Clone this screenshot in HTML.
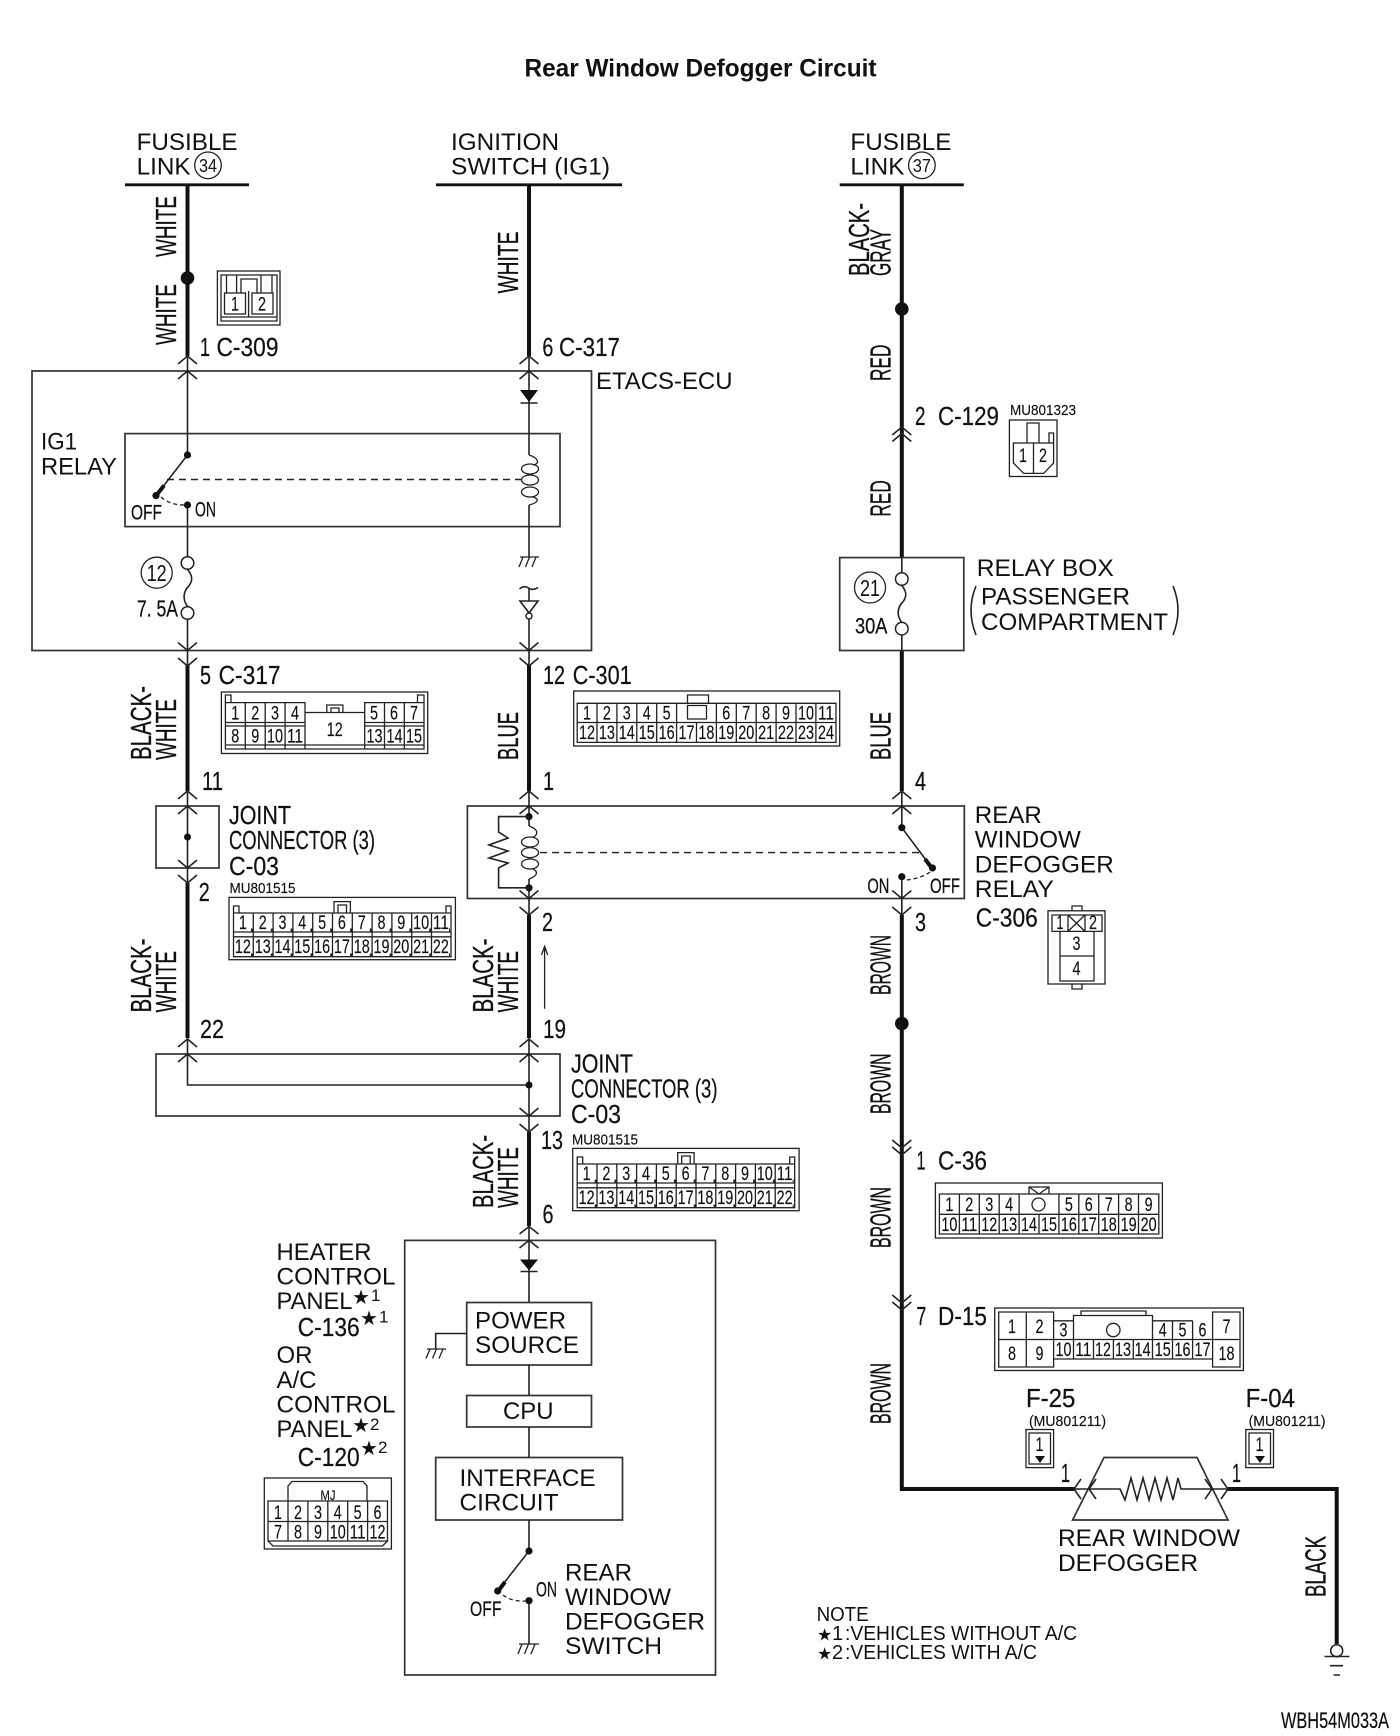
<!DOCTYPE html>
<html><head><meta charset="utf-8"><title>Rear Window Defogger Circuit</title>
<style>
html,body{margin:0;padding:0;background:#fff}
svg{display:block;filter:blur(.35px)}
text{font-family:"Liberation Sans",sans-serif;fill:#111}
.s{font-size:24.5px}
.n{font-size:26px;stroke:#111;stroke-width:.25}
.r{font-size:28.5px;stroke:#111;stroke-width:.3}
.d{font-size:19px;text-anchor:middle;stroke:#111;stroke-width:.15}
.m{font-size:15px;stroke:#111;stroke-width:.15}
.t{fill:none;stroke:#222;stroke-width:1.6}
.b{fill:none;stroke:#333;stroke-width:1.7}
.c{fill:none;stroke:#222;stroke-width:1.3}
.k{fill:none;stroke:#111;stroke-width:4}
.x{fill:#fff;stroke:#222;stroke-width:1.5}
.star{font-family:"DejaVu Sans",sans-serif;font-size:20px}
.star2{font-family:"DejaVu Sans",sans-serif;font-size:17px}
</style></head><body>
<svg xmlns="http://www.w3.org/2000/svg" width="1400" height="1736" viewBox="0 0 1400 1736">
<rect width="1400" height="1736" fill="#fff"/>
<text x="524.5" y="76.5" font-size="25" font-weight="bold" textLength="352" lengthAdjust="spacingAndGlyphs">Rear Window Defogger Circuit</text>

<!-- Head labels -->
<text class="s" x="136.6" y="150" textLength="101" lengthAdjust="spacingAndGlyphs">FUSIBLE</text>
<text class="s" x="136.6" y="174.5" textLength="54" lengthAdjust="spacingAndGlyphs">LINK</text>
<circle cx="208" cy="165.3" r="13.3" class="c"/><text x="208" y="172" font-size="18" text-anchor="middle" textLength="18" lengthAdjust="spacingAndGlyphs">34</text>
<text class="s" x="451" y="150" textLength="108" lengthAdjust="spacingAndGlyphs">IGNITION</text>
<text class="s" x="451" y="174.5" textLength="159" lengthAdjust="spacingAndGlyphs">SWITCH (IG1)</text>
<text class="s" x="850.4" y="150" textLength="101" lengthAdjust="spacingAndGlyphs">FUSIBLE</text>
<text class="s" x="850.4" y="174.5" textLength="54" lengthAdjust="spacingAndGlyphs">LINK</text>
<circle cx="921.9" cy="165.3" r="13.3" class="c"/><text x="921.9" y="172" font-size="18" text-anchor="middle" textLength="18" lengthAdjust="spacingAndGlyphs">37</text>
<path d="M125 184.8H249M436 184.8H622M839.7 184.8H963.8" fill="none" stroke="#111" stroke-width="2.8"/>

<!-- thick wires -->
<path class="k" d="M187.5 185V356M529 185V356M901.8 185V557.6M187.5 665V791M529 665V791M901.8 650V791M187.5 883V1038M529 915V1038M901.8 915V1489H1074M1228 1489H1336.7V1644M529 1132V1226"/>
<circle cx="187.5" cy="278" r="6.8" fill="#111"/>
<circle cx="901.8" cy="309" r="6.8" fill="#111"/>
<circle cx="901.8" cy="1023.6" r="6.8" fill="#111"/>

<!-- boxes -->
<rect class="b" x="32" y="371" width="559.5" height="279.5"/>
<rect class="b" x="125" y="433.6" width="435" height="93"/>
<rect class="b" x="839.7" y="557.6" width="124.1" height="92.9"/>
<rect class="b" x="156" y="806" width="63" height="62"/>
<rect class="b" x="467.4" y="806" width="496.9" height="92.5"/>
<rect class="b" x="156" y="1054" width="404" height="62"/>
<rect class="b" x="404.7" y="1240.4" width="310.8" height="434.6"/>
<rect class="b" x="466.7" y="1302.5" width="124.8" height="62.5"/>
<rect class="b" x="466.7" y="1395.5" width="124.8" height="31.5"/>
<rect class="b" x="435.7" y="1457.5" width="186.8" height="62.5"/>

<!-- thin wires -->
<path class="t" d="M187.5 356V455M187.5 505V556.5M187.5 619.5V666M529 356V455M529 505V557M529 588V601M529 619V666M901.8 557.6V573M901.8 635V650.5M187.5 791V883M529 791V826M529 879V915M901.8 791V828M901.8 877V915M187.5 1038V1085H529M529 1038V1132M529 1226V1302.5M529 1365V1395.5M529 1427V1457.5M529 1520V1551M529 1600.7V1644M466.7 1333.5H435.7V1349"/>

<!-- chevrons up -->
<path class="t" d="M178 364L187.5 356L197 364M178 379L187.5 371L197 379M519.5 364L529 356L538.5 364M519.5 379L529 371L538.5 379M178 799L187.5 791L197 799M178 814L187.5 806L197 814M519.5 799L529 791L538.5 799M519.5 814L529 806L538.5 814M892.3 799L901.8 791L911.3 799M892.3 814L901.8 806L911.3 814M178 1047L187.5 1039L197 1047M178 1062L187.5 1054L197 1062M519.5 1047L529 1039L538.5 1047M519.5 1062L529 1054L538.5 1062M519.5 1234L529 1226.5L538.5 1234M519.5 1248L529 1240.4L538.5 1248M892.3 435L901.8 427L911.3 435M892.3 441.5L901.8 433.5L911.3 441.5"/>
<!-- chevrons down -->
<path class="t" d="M178 642.5L187.5 650.5L197 642.5M178 658L187.5 666L197 658M519.5 642.5L529 650.5L538.5 642.5M519.5 658L529 666L538.5 658M178 860L187.5 868L197 860M178 875L187.5 883L197 875M519.5 890.5L529 898.5L538.5 890.5M519.5 907L529 915L538.5 907M892.3 890.5L901.8 898.5L911.3 890.5M892.3 907L901.8 915L911.3 907M519.5 1108L529 1116L538.5 1108M519.5 1124L529 1132L538.5 1124M892.3 1140L901.8 1148L911.3 1140M892.3 1147L901.8 1155L911.3 1147M892.3 1295L901.8 1303L911.3 1295M892.3 1302L901.8 1310L911.3 1302"/>

<!-- Diodes -->
<path d="M520 390H538L529 402Z" fill="#111"/><path class="t" d="M520.5 403H537.5"/>
<path d="M520 1259.5H538L529 1270.5Z" fill="#111"/><path class="t" d="M520.5 1271.5H537.5"/>

<!-- IG1 relay -->
<path class="t" d="M187.5 455L156 495.6"/>
<path d="M164 485.5L157 494.5" stroke="#111" stroke-width="4" fill="none"/>
<circle cx="187.5" cy="455" r="3.6" fill="#111"/><circle cx="156" cy="495.6" r="3.6" fill="#111"/><circle cx="187.5" cy="505" r="3.6" fill="#111"/>
<path d="M167 479.5H522" fill="none" stroke="#222" stroke-width="1.4" stroke-dasharray="7 5"/>
<path d="M161 497Q170 505 184 505" fill="none" stroke="#222" stroke-width="1.3" stroke-dasharray="4 3"/>
<text class="n" x="131" y="519.5" style="font-size:21px" textLength="31" lengthAdjust="spacingAndGlyphs">OFF</text>
<text class="n" x="195" y="516.5" style="font-size:21px" textLength="21" lengthAdjust="spacingAndGlyphs">ON</text>
<text class="s" x="41" y="449.7" textLength="36" lengthAdjust="spacingAndGlyphs">IG1</text>
<text class="s" x="41" y="474.5" textLength="76" lengthAdjust="spacingAndGlyphs">RELAY</text>
<!-- coil 1 -->
<path class="c" d="M529 455C539 458 540 464 533 465M533 497C540 499 538 503 529 505"/>
<ellipse class="c" cx="530" cy="469" rx="8.5" ry="5"/><ellipse class="c" cx="530" cy="480" rx="8.5" ry="5"/><ellipse class="c" cx="530" cy="492" rx="8.5" ry="5"/>
<!-- fuse 12 -->
<circle class="x" cx="187.5" cy="563" r="6.3"/><circle class="x" cx="187.5" cy="613" r="6.3"/>
<path class="t" d="M187.5 569.5C195 578 191 584 187 588C183 594 183 600 187.5 606.5"/>
<circle class="c" cx="156.7" cy="572.7" r="15.5"/><text x="156.7" y="581" font-size="23" text-anchor="middle" textLength="20" lengthAdjust="spacingAndGlyphs">12</text>
<text class="n" x="137" y="616.7" style="font-size:23px" textLength="41" lengthAdjust="spacingAndGlyphs">7. 5A</text>
<!-- grounds -->
<path class="c" d="M520 557H539M523 557L519 567M529.5 557L525.5 567M536 557L532 567"/>
<path class="t" d="M519.5 589Q524 585 528.5 588T538 587.5"/>
<path class="t" d="M520 601H538L529 613Z"/><circle class="x" cx="529" cy="616" r="3"/>
<path class="c" d="M427 1349H446M430 1349L426 1358.5M436.5 1349L432.5 1358.5M443 1349L439 1358.5"/>
<path class="c" d="M519 1644H539M522 1644L518 1654M528.5 1644L524.5 1654M535 1644L531 1654"/>

<!-- Fuse 21 -->
<circle class="x" cx="901.8" cy="579" r="6.3"/><circle class="x" cx="901.8" cy="628.7" r="6.3"/>
<path class="t" d="M901.8 585.5C909 594 905 600 901 604C897 610 897 616 901.8 622.5"/>
<circle class="c" cx="870" cy="587.5" r="15.5"/><text x="870" y="596" font-size="23" text-anchor="middle" textLength="20" lengthAdjust="spacingAndGlyphs">21</text>
<text class="n" x="855" y="633.7" style="font-size:22px" textLength="32.5" lengthAdjust="spacingAndGlyphs">30A</text>
<text class="s" x="976.8" y="576" textLength="137" lengthAdjust="spacingAndGlyphs">RELAY BOX</text>
<text class="s" x="981" y="604.5" textLength="149" lengthAdjust="spacingAndGlyphs">PASSENGER</text>
<text class="s" x="981" y="630" textLength="187" lengthAdjust="spacingAndGlyphs">COMPARTMENT</text>
<path class="t" d="M976 586Q966 610 976 635M1173 586Q1183 610 1173 635"/>

<!-- Rear window defogger relay -->
<circle cx="529" cy="816.6" r="3.6" fill="#111"/><circle cx="529" cy="887.8" r="3.6" fill="#111"/>
<path class="t" d="M529 816.6H498.6V832L508 838L489 845L508 851L489 858L508 863L498.6 868V887.8H529"/>
<path class="c" d="M529 826C538 829 539 834 533 837.5M533 869C539 872 537 876 529 879"/>
<ellipse class="c" cx="530" cy="842" rx="8.5" ry="5"/><ellipse class="c" cx="530" cy="852.6" rx="8.5" ry="5"/><ellipse class="c" cx="530" cy="864" rx="8.5" ry="5"/>
<path d="M540 852.6H923" fill="none" stroke="#222" stroke-width="1.4" stroke-dasharray="7 5"/>
<path class="t" d="M901.8 827.7L932 868"/><path d="M925 859L931 867" stroke="#111" stroke-width="4" fill="none"/>
<circle cx="901.8" cy="827.7" r="3.6" fill="#111"/><circle cx="932.5" cy="868" r="3.6" fill="#111"/><circle cx="901.8" cy="876.7" r="3.6" fill="#111"/>
<path d="M930 872Q922 878 907 880" fill="none" stroke="#222" stroke-width="1.3" stroke-dasharray="4 3"/>
<text class="n" x="867.4" y="892.8" style="font-size:21px" textLength="22" lengthAdjust="spacingAndGlyphs">ON</text>
<text class="n" x="930" y="892.8" style="font-size:21px" textLength="30" lengthAdjust="spacingAndGlyphs">OFF</text>
<text class="s" x="974.8" y="823" textLength="67" lengthAdjust="spacingAndGlyphs">REAR</text>
<text class="s" x="974.8" y="847.6" textLength="106" lengthAdjust="spacingAndGlyphs">WINDOW</text>
<text class="s" x="974.8" y="872.5" textLength="139" lengthAdjust="spacingAndGlyphs">DEFOGGER</text>
<text class="s" x="974.8" y="897" textLength="79" lengthAdjust="spacingAndGlyphs">RELAY</text>

<!-- joints -->
<circle cx="187.5" cy="837" r="3.5" fill="#111"/>
<circle cx="529" cy="1085" r="3.5" fill="#111"/>
<!-- up arrow -->
<path class="c" d="M544.6 1008.7V947M541.5 955L544.6 946.3L547.7 955"/>

<!-- Rotated labels -->
<text class="r" transform="translate(176 257) rotate(-90)" textLength="61" lengthAdjust="spacingAndGlyphs">WHITE</text>
<text class="r" transform="translate(176 345) rotate(-90)" textLength="61" lengthAdjust="spacingAndGlyphs">WHITE</text>
<text class="r" transform="translate(518 293.5) rotate(-90)" textLength="62" lengthAdjust="spacingAndGlyphs">WHITE</text>
<text class="r" transform="translate(869 276) rotate(-90)" textLength="73" lengthAdjust="spacingAndGlyphs">BLACK-</text>
<text class="r" transform="translate(890.6 276) rotate(-90)" textLength="47" lengthAdjust="spacingAndGlyphs">GRAY</text>
<text class="r" transform="translate(890.6 381) rotate(-90)" textLength="36.5" lengthAdjust="spacingAndGlyphs">RED</text>
<text class="r" transform="translate(890.6 516.6) rotate(-90)" textLength="36.5" lengthAdjust="spacingAndGlyphs">RED</text>
<text class="r" transform="translate(151 760) rotate(-90)" textLength="74" lengthAdjust="spacingAndGlyphs">BLACK-</text>
<text class="r" transform="translate(176 760) rotate(-90)" textLength="61" lengthAdjust="spacingAndGlyphs">WHITE</text>
<text class="r" transform="translate(518 760) rotate(-90)" textLength="48" lengthAdjust="spacingAndGlyphs">BLUE</text>
<text class="r" transform="translate(890.6 760) rotate(-90)" textLength="48" lengthAdjust="spacingAndGlyphs">BLUE</text>
<text class="r" transform="translate(151 1012.5) rotate(-90)" textLength="74" lengthAdjust="spacingAndGlyphs">BLACK-</text>
<text class="r" transform="translate(176 1012.5) rotate(-90)" textLength="61.5" lengthAdjust="spacingAndGlyphs">WHITE</text>
<text class="r" transform="translate(493 1012.5) rotate(-90)" textLength="74" lengthAdjust="spacingAndGlyphs">BLACK-</text>
<text class="r" transform="translate(518 1012.5) rotate(-90)" textLength="61.5" lengthAdjust="spacingAndGlyphs">WHITE</text>
<text class="r" transform="translate(493 1208) rotate(-90)" textLength="73" lengthAdjust="spacingAndGlyphs">BLACK-</text>
<text class="r" transform="translate(518 1208) rotate(-90)" textLength="61" lengthAdjust="spacingAndGlyphs">WHITE</text>
<text class="r" transform="translate(890.6 995) rotate(-90)" textLength="60" lengthAdjust="spacingAndGlyphs">BROWN</text>
<text class="r" transform="translate(890.6 1114) rotate(-90)" textLength="60.5" lengthAdjust="spacingAndGlyphs">BROWN</text>
<text class="r" transform="translate(890.6 1248) rotate(-90)" textLength="61" lengthAdjust="spacingAndGlyphs">BROWN</text>
<text class="r" transform="translate(890.6 1424) rotate(-90)" textLength="61" lengthAdjust="spacingAndGlyphs">BROWN</text>
<text class="r" transform="translate(1325.7 1597) rotate(-90)" textLength="61" lengthAdjust="spacingAndGlyphs">BLACK</text>

<!-- pin / connector labels -->
<text class="n" x="200" y="356" textLength="10" lengthAdjust="spacingAndGlyphs">1</text>
<text class="n" x="216.5" y="356" textLength="62" lengthAdjust="spacingAndGlyphs">C-309</text>
<text class="n" x="542.4" y="356" textLength="11" lengthAdjust="spacingAndGlyphs">6</text>
<text class="n" x="559" y="356" textLength="61" lengthAdjust="spacingAndGlyphs">C-317</text>
<text class="s" x="596" y="389" textLength="136.5" lengthAdjust="spacingAndGlyphs">ETACS-ECU</text>
<text class="n" x="915" y="425" textLength="10.5" lengthAdjust="spacingAndGlyphs">2</text>
<text class="n" x="938" y="425" textLength="61" lengthAdjust="spacingAndGlyphs">C-129</text>
<text class="m" x="1010" y="415" textLength="66" lengthAdjust="spacingAndGlyphs">MU801323</text>
<text class="n" x="200" y="684" textLength="11" lengthAdjust="spacingAndGlyphs">5</text>
<text class="n" x="218.6" y="684" textLength="62" lengthAdjust="spacingAndGlyphs">C-317</text>
<text class="n" x="543" y="684" textLength="22" lengthAdjust="spacingAndGlyphs">12</text>
<text class="n" x="572.7" y="684" textLength="59" lengthAdjust="spacingAndGlyphs">C-301</text>
<text class="n" x="202" y="790" textLength="21" lengthAdjust="spacingAndGlyphs">11</text>
<text class="n" x="543" y="790" textLength="11" lengthAdjust="spacingAndGlyphs">1</text>
<text class="n" x="915" y="790" textLength="11" lengthAdjust="spacingAndGlyphs">4</text>
<text class="n" x="198.7" y="901" textLength="11" lengthAdjust="spacingAndGlyphs">2</text>
<text class="n" x="542" y="931" textLength="11" lengthAdjust="spacingAndGlyphs">2</text>
<text class="n" x="915" y="931" textLength="11" lengthAdjust="spacingAndGlyphs">3</text>
<text class="n" x="975.8" y="926.4" textLength="62" lengthAdjust="spacingAndGlyphs">C-306</text>
<text class="n" x="200" y="1038" textLength="24" lengthAdjust="spacingAndGlyphs">22</text>
<text class="n" x="543" y="1038" textLength="23" lengthAdjust="spacingAndGlyphs">19</text>
<text class="n" x="541" y="1149" textLength="22" lengthAdjust="spacingAndGlyphs">13</text>
<text class="n" x="542.5" y="1223" textLength="11" lengthAdjust="spacingAndGlyphs">6</text>
<text class="n" x="916.5" y="1169.5" textLength="9" lengthAdjust="spacingAndGlyphs">1</text>
<text class="n" x="938" y="1169.5" textLength="49" lengthAdjust="spacingAndGlyphs">C-36</text>
<text class="n" x="916.4" y="1325" textLength="10" lengthAdjust="spacingAndGlyphs">7</text>
<text class="n" x="938" y="1325" textLength="49" lengthAdjust="spacingAndGlyphs">D-15</text>
<text class="n" x="229" y="824" textLength="62" lengthAdjust="spacingAndGlyphs">JOINT</text>
<text class="n" x="229" y="849" textLength="146" lengthAdjust="spacingAndGlyphs">CONNECTOR (3)</text>
<text class="n" x="229" y="875" textLength="50" lengthAdjust="spacingAndGlyphs">C-03</text>
<text class="m" x="229.5" y="893" textLength="66" lengthAdjust="spacingAndGlyphs">MU801515</text>
<text class="n" x="571" y="1072.6" textLength="62" lengthAdjust="spacingAndGlyphs">JOINT</text>
<text class="n" x="571" y="1097.5" textLength="146.5" lengthAdjust="spacingAndGlyphs">CONNECTOR (3)</text>
<text class="n" x="571" y="1123" textLength="50" lengthAdjust="spacingAndGlyphs">C-03</text>
<text class="m" x="572" y="1144.6" textLength="66" lengthAdjust="spacingAndGlyphs">MU801515</text>

<!-- left panel label -->
<text class="s" x="276.5" y="1260" textLength="95" lengthAdjust="spacingAndGlyphs">HEATER</text>
<text class="s" x="276.5" y="1284.5" textLength="119" lengthAdjust="spacingAndGlyphs">CONTROL</text>
<text class="s" x="276.5" y="1309" textLength="76" lengthAdjust="spacingAndGlyphs">PANEL</text>
<text class="star" x="352" y="1304">★</text><text x="371" y="1301" font-size="17">1</text>
<text class="n" x="297.7" y="1336" textLength="62" lengthAdjust="spacingAndGlyphs">C-136</text>
<text class="star" x="360" y="1325">★</text><text x="379" y="1322.6" font-size="17">1</text>
<text class="s" x="276.5" y="1363" textLength="36" lengthAdjust="spacingAndGlyphs">OR</text>
<text class="s" x="276.5" y="1388" textLength="40" lengthAdjust="spacingAndGlyphs">A/C</text>
<text class="s" x="276.5" y="1412.7" textLength="119" lengthAdjust="spacingAndGlyphs">CONTROL</text>
<text class="s" x="276.5" y="1437" textLength="76" lengthAdjust="spacingAndGlyphs">PANEL</text>
<text class="star" x="352" y="1432">★</text><text x="370" y="1430" font-size="17">2</text>
<text class="n" x="297.7" y="1465.8" textLength="62" lengthAdjust="spacingAndGlyphs">C-120</text>
<text class="star" x="360" y="1455">★</text><text x="378" y="1453" font-size="17">2</text>

<!-- inside panel -->
<text class="s" x="475" y="1328.6" textLength="91" lengthAdjust="spacingAndGlyphs">POWER</text>
<text class="s" x="475" y="1353" textLength="104" lengthAdjust="spacingAndGlyphs">SOURCE</text>
<text class="s" x="503" y="1419" textLength="50.5" lengthAdjust="spacingAndGlyphs">CPU</text>
<text class="s" x="459.5" y="1486" textLength="136" lengthAdjust="spacingAndGlyphs">INTERFACE</text>
<text class="s" x="459.5" y="1510.6" textLength="99" lengthAdjust="spacingAndGlyphs">CIRCUIT</text>
<path class="t" d="M529 1551L497.7 1591"/><path d="M505 1582L499 1590" stroke="#111" stroke-width="4" fill="none"/>
<circle cx="529" cy="1551" r="3.6" fill="#111"/><circle cx="497.7" cy="1591" r="3.6" fill="#111"/><circle cx="529" cy="1600.7" r="3.6" fill="#111"/>
<path d="M503 1595Q512 1602 526 1601" fill="none" stroke="#222" stroke-width="1.3" stroke-dasharray="4 3"/>
<text class="n" x="470" y="1616" style="font-size:21px" textLength="31.5" lengthAdjust="spacingAndGlyphs">OFF</text>
<text class="n" x="536" y="1596.6" style="font-size:21px" textLength="21" lengthAdjust="spacingAndGlyphs">ON</text>
<text class="s" x="565" y="1580.5" textLength="67" lengthAdjust="spacingAndGlyphs">REAR</text>
<text class="s" x="565" y="1605" textLength="106" lengthAdjust="spacingAndGlyphs">WINDOW</text>
<text class="s" x="565" y="1629.5" textLength="140" lengthAdjust="spacingAndGlyphs">DEFOGGER</text>
<text class="s" x="565" y="1654" textLength="97" lengthAdjust="spacingAndGlyphs">SWITCH</text>

<!-- Connector C-309 -->
<rect class="c" x="217.4" y="271" width="62.6" height="54"/>
<path class="c" d="M221 275H277V321H221ZM221 317H277M226.5 275V293M272 275V293M236.6 293V275H261V293M241 293V279H257V293M248.6 291V317"/>
<rect class="c" x="224.5" y="293" width="21" height="21"/><rect class="c" x="252" y="293" width="21" height="21"/>
<text class="d" x="235" y="310.7" textLength="8" lengthAdjust="spacingAndGlyphs">1</text>
<text class="d" x="262" y="310.7" textLength="8" lengthAdjust="spacingAndGlyphs">2</text>

<!-- Connector C-129 -->
<rect class="c" x="1009.4" y="420" width="47.6" height="56.5"/>
<path class="c" d="M1013.4 443H1053.6V463L1043.7 473.4H1023.7L1013.4 463ZM1033.5 443V473.4M1027 443V423H1039V443M1049 443V433H1053.6V443"/>
<text class="d" x="1023" y="462" textLength="8" lengthAdjust="spacingAndGlyphs">1</text>
<text class="d" x="1043" y="462" textLength="8" lengthAdjust="spacingAndGlyphs">2</text>

<!-- Connector C-317 -->
<rect class="c" x="221.4" y="692" width="206.3" height="61.5"/>
<path class="c" d="M225.4 702.6H305V749H225.4ZM364.7 702.6H424V749H364.7ZM225.4 722.5H305M225.4 726H305M364.7 722.5H424M364.7 726H424M245.3 702.6V749M265.2 702.6V749M285.1 702.6V749M384.5 702.6V749M404.3 702.6V749M305 712.5H364.7M305 745H364.7M305 749H364.7M326.8 712.5V705H342.9V712.5M331 712.5V708H339V712.5M225.4 702.6V695H231V702.6M417.5 702.6V695H424V702.6M225.4 745H424"/>
<text class="d" x="235.3" y="719.4" textLength="8" lengthAdjust="spacingAndGlyphs">1</text><text class="d" x="255.2" y="719.4" textLength="8" lengthAdjust="spacingAndGlyphs">2</text><text class="d" x="275" y="719.4" textLength="8" lengthAdjust="spacingAndGlyphs">3</text><text class="d" x="295" y="719.4" textLength="8" lengthAdjust="spacingAndGlyphs">4</text>
<text class="d" x="374" y="719.4" textLength="8" lengthAdjust="spacingAndGlyphs">5</text><text class="d" x="394" y="719.4" textLength="8" lengthAdjust="spacingAndGlyphs">6</text><text class="d" x="414" y="719.4" textLength="8" lengthAdjust="spacingAndGlyphs">7</text>
<text class="d" x="235.3" y="742.4" textLength="8" lengthAdjust="spacingAndGlyphs">8</text><text class="d" x="255.2" y="742.4" textLength="8" lengthAdjust="spacingAndGlyphs">9</text><text class="d" x="275" y="742.4" textLength="16" lengthAdjust="spacingAndGlyphs">10</text><text class="d" x="295" y="742.4" textLength="16" lengthAdjust="spacingAndGlyphs">11</text>
<text class="d" x="334.8" y="736" textLength="16" lengthAdjust="spacingAndGlyphs">12</text>
<text class="d" x="374.5" y="742.4" textLength="16" lengthAdjust="spacingAndGlyphs">13</text><text class="d" x="394.5" y="742.4" textLength="16" lengthAdjust="spacingAndGlyphs">14</text><text class="d" x="414" y="742.4" textLength="16" lengthAdjust="spacingAndGlyphs">15</text>

<!-- Connector C-301 -->
<rect class="c" x="573.7" y="691" width="266" height="55"/>
<path class="c" d="M577.2 703.3H836V742.4H577.2ZM577.2 722.5H836M597 703.3V742.4M616.9 703.3V742.4M636.8 703.3V742.4M656.7 703.3V742.4M676.6 703.3V742.4M696.5 722.5V742.4M716.4 703.3V742.4M736.3 703.3V742.4M756.2 703.3V742.4M776.1 703.3V742.4M796 703.3V742.4M815.9 703.3V742.4M687.5 703.3V695H708.5V703.3M687.5 705.5H706.5V719H687.5Z"/>
<text class="d" x="587" y="719.4" textLength="8" lengthAdjust="spacingAndGlyphs">1</text><text class="d" x="606.9" y="719.4" textLength="8" lengthAdjust="spacingAndGlyphs">2</text><text class="d" x="626.8" y="719.4" textLength="8" lengthAdjust="spacingAndGlyphs">3</text><text class="d" x="646.7" y="719.4" textLength="8" lengthAdjust="spacingAndGlyphs">4</text><text class="d" x="666.6" y="719.4" textLength="8" lengthAdjust="spacingAndGlyphs">5</text>
<text class="d" x="726.3" y="719.4" textLength="8" lengthAdjust="spacingAndGlyphs">6</text><text class="d" x="746.2" y="719.4" textLength="8" lengthAdjust="spacingAndGlyphs">7</text><text class="d" x="766.1" y="719.4" textLength="8" lengthAdjust="spacingAndGlyphs">8</text><text class="d" x="786" y="719.4" textLength="8" lengthAdjust="spacingAndGlyphs">9</text><text class="d" x="806" y="719.4" textLength="16" lengthAdjust="spacingAndGlyphs">10</text><text class="d" x="826" y="719.4" textLength="16" lengthAdjust="spacingAndGlyphs">11</text>
<text class="d" x="587" y="739" textLength="16" lengthAdjust="spacingAndGlyphs">12</text><text class="d" x="606.9" y="739" textLength="16" lengthAdjust="spacingAndGlyphs">13</text><text class="d" x="626.8" y="739" textLength="16" lengthAdjust="spacingAndGlyphs">14</text><text class="d" x="646.7" y="739" textLength="16" lengthAdjust="spacingAndGlyphs">15</text><text class="d" x="666.6" y="739" textLength="16" lengthAdjust="spacingAndGlyphs">16</text><text class="d" x="686.5" y="739" textLength="16" lengthAdjust="spacingAndGlyphs">17</text><text class="d" x="706.4" y="739" textLength="16" lengthAdjust="spacingAndGlyphs">18</text><text class="d" x="726.3" y="739" textLength="16" lengthAdjust="spacingAndGlyphs">19</text><text class="d" x="746.2" y="739" textLength="16" lengthAdjust="spacingAndGlyphs">20</text><text class="d" x="766.1" y="739" textLength="16" lengthAdjust="spacingAndGlyphs">21</text><text class="d" x="786" y="739" textLength="16" lengthAdjust="spacingAndGlyphs">22</text><text class="d" x="806" y="739" textLength="16" lengthAdjust="spacingAndGlyphs">23</text><text class="d" x="826" y="739" textLength="16" lengthAdjust="spacingAndGlyphs">24</text>

<!-- Connector 22-pin left -->
<g>
<rect class="c" x="229" y="897.4" width="226.4" height="62.3"/>
<path class="c" d="M233.5 913H451V956.7H233.5ZM233.5 932H451M233.5 936.8H451M253.3 913V956.7M273.1 913V956.7M292.9 913V956.7M312.7 913V956.7M332.5 913V956.7M352.3 913V956.7M372.1 913V956.7M391.9 913V956.7M411.7 913V956.7M431.5 913V956.7M334 913V901.6H350.4V913M338 913V905H346.5V913M233.5 913V906H239V913M446 913V906H451V913"/>
<path d="M251 930H450M251 955H450" fill="none" stroke="#222" stroke-width="3" stroke-dasharray="2 17.8"/>
<text class="d" x="242.9" y="929" textLength="8" lengthAdjust="spacingAndGlyphs">1</text><text class="d" x="262.7" y="929" textLength="8" lengthAdjust="spacingAndGlyphs">2</text><text class="d" x="282.5" y="929" textLength="8" lengthAdjust="spacingAndGlyphs">3</text><text class="d" x="302.3" y="929" textLength="8" lengthAdjust="spacingAndGlyphs">4</text><text class="d" x="322.1" y="929" textLength="8" lengthAdjust="spacingAndGlyphs">5</text><text class="d" x="341.9" y="929" textLength="8" lengthAdjust="spacingAndGlyphs">6</text><text class="d" x="361.7" y="929" textLength="8" lengthAdjust="spacingAndGlyphs">7</text><text class="d" x="381.5" y="929" textLength="8" lengthAdjust="spacingAndGlyphs">8</text><text class="d" x="401.3" y="929" textLength="8" lengthAdjust="spacingAndGlyphs">9</text><text class="d" x="421.1" y="929" textLength="16" lengthAdjust="spacingAndGlyphs">10</text><text class="d" x="440.9" y="929" textLength="16" lengthAdjust="spacingAndGlyphs">11</text>
<text class="d" x="242.9" y="953" textLength="16" lengthAdjust="spacingAndGlyphs">12</text><text class="d" x="262.7" y="953" textLength="16" lengthAdjust="spacingAndGlyphs">13</text><text class="d" x="282.5" y="953" textLength="16" lengthAdjust="spacingAndGlyphs">14</text><text class="d" x="302.3" y="953" textLength="16" lengthAdjust="spacingAndGlyphs">15</text><text class="d" x="322.1" y="953" textLength="16" lengthAdjust="spacingAndGlyphs">16</text><text class="d" x="341.9" y="953" textLength="16" lengthAdjust="spacingAndGlyphs">17</text><text class="d" x="361.7" y="953" textLength="16" lengthAdjust="spacingAndGlyphs">18</text><text class="d" x="381.5" y="953" textLength="16" lengthAdjust="spacingAndGlyphs">19</text><text class="d" x="401.3" y="953" textLength="16" lengthAdjust="spacingAndGlyphs">20</text><text class="d" x="421.1" y="953" textLength="16" lengthAdjust="spacingAndGlyphs">21</text><text class="d" x="440.9" y="953" textLength="16" lengthAdjust="spacingAndGlyphs">22</text>
</g>

<!-- Connector 22-pin center -->
<g transform="translate(343.7 251)">
<rect class="c" x="229" y="897.4" width="226.4" height="62.3"/>
<path class="c" d="M233.5 913H451V956.7H233.5ZM233.5 932H451M233.5 936.8H451M253.3 913V956.7M273.1 913V956.7M292.9 913V956.7M312.7 913V956.7M332.5 913V956.7M352.3 913V956.7M372.1 913V956.7M391.9 913V956.7M411.7 913V956.7M431.5 913V956.7M334 913V901.6H350.4V913M338 913V905H346.5V913M233.5 913V906H239V913M446 913V906H451V913"/>
<path d="M251 930H450M251 955H450" fill="none" stroke="#222" stroke-width="3" stroke-dasharray="2 17.8"/>
<text class="d" x="242.9" y="929" textLength="8" lengthAdjust="spacingAndGlyphs">1</text><text class="d" x="262.7" y="929" textLength="8" lengthAdjust="spacingAndGlyphs">2</text><text class="d" x="282.5" y="929" textLength="8" lengthAdjust="spacingAndGlyphs">3</text><text class="d" x="302.3" y="929" textLength="8" lengthAdjust="spacingAndGlyphs">4</text><text class="d" x="322.1" y="929" textLength="8" lengthAdjust="spacingAndGlyphs">5</text><text class="d" x="341.9" y="929" textLength="8" lengthAdjust="spacingAndGlyphs">6</text><text class="d" x="361.7" y="929" textLength="8" lengthAdjust="spacingAndGlyphs">7</text><text class="d" x="381.5" y="929" textLength="8" lengthAdjust="spacingAndGlyphs">8</text><text class="d" x="401.3" y="929" textLength="8" lengthAdjust="spacingAndGlyphs">9</text><text class="d" x="421.1" y="929" textLength="16" lengthAdjust="spacingAndGlyphs">10</text><text class="d" x="440.9" y="929" textLength="16" lengthAdjust="spacingAndGlyphs">11</text>
<text class="d" x="242.9" y="953" textLength="16" lengthAdjust="spacingAndGlyphs">12</text><text class="d" x="262.7" y="953" textLength="16" lengthAdjust="spacingAndGlyphs">13</text><text class="d" x="282.5" y="953" textLength="16" lengthAdjust="spacingAndGlyphs">14</text><text class="d" x="302.3" y="953" textLength="16" lengthAdjust="spacingAndGlyphs">15</text><text class="d" x="322.1" y="953" textLength="16" lengthAdjust="spacingAndGlyphs">16</text><text class="d" x="341.9" y="953" textLength="16" lengthAdjust="spacingAndGlyphs">17</text><text class="d" x="361.7" y="953" textLength="16" lengthAdjust="spacingAndGlyphs">18</text><text class="d" x="381.5" y="953" textLength="16" lengthAdjust="spacingAndGlyphs">19</text><text class="d" x="401.3" y="953" textLength="16" lengthAdjust="spacingAndGlyphs">20</text><text class="d" x="421.1" y="953" textLength="16" lengthAdjust="spacingAndGlyphs">21</text><text class="d" x="440.9" y="953" textLength="16" lengthAdjust="spacingAndGlyphs">22</text>
</g>

<!-- Connector C-306 -->
<rect class="c" x="1048" y="910.8" width="57" height="73.2"/>
<path class="c" d="M1072 910.8V906H1082V910.8M1072 984V989H1082V984M1052 915H1102V931.4H1052ZM1068 915V931.4M1085 915V931.4M1068 915L1085 931.4M1085 915L1068 931.4M1060 931.4V981H1094V931.4M1060 956H1094"/>
<text class="d" x="1060" y="929" textLength="7" lengthAdjust="spacingAndGlyphs">1</text><text class="d" x="1093" y="929" textLength="8" lengthAdjust="spacingAndGlyphs">2</text>
<text class="d" x="1076.5" y="950" textLength="8" lengthAdjust="spacingAndGlyphs">3</text><text class="d" x="1076.5" y="975" textLength="8" lengthAdjust="spacingAndGlyphs">4</text>

<!-- Connector MJ -->
<rect class="c" x="264.3" y="1478" width="127.1" height="71"/>
<path class="c" d="M268 1501H387.5V1541H268ZM268 1521.5H387.5M288 1501V1541M307.9 1501V1541M327.8 1501V1541M347.7 1501V1541M367.6 1501V1541M288 1501V1486L292 1481.5H363L367 1486V1501M268 1541L273 1546H382.5L387.5 1541"/>
<text class="m" x="328" y="1500" style="font-size:14px" text-anchor="middle" textLength="15" lengthAdjust="spacingAndGlyphs">MJ</text>
<text class="d" x="278" y="1519" textLength="8" lengthAdjust="spacingAndGlyphs">1</text><text class="d" x="298" y="1519" textLength="8" lengthAdjust="spacingAndGlyphs">2</text><text class="d" x="318" y="1519" textLength="8" lengthAdjust="spacingAndGlyphs">3</text><text class="d" x="337.8" y="1519" textLength="8" lengthAdjust="spacingAndGlyphs">4</text><text class="d" x="357.6" y="1519" textLength="8" lengthAdjust="spacingAndGlyphs">5</text><text class="d" x="377.5" y="1519" textLength="8" lengthAdjust="spacingAndGlyphs">6</text>
<text class="d" x="278" y="1538.5" textLength="8" lengthAdjust="spacingAndGlyphs">7</text><text class="d" x="298" y="1538.5" textLength="8" lengthAdjust="spacingAndGlyphs">8</text><text class="d" x="318" y="1538.5" textLength="8" lengthAdjust="spacingAndGlyphs">9</text><text class="d" x="337.8" y="1538.5" textLength="16" lengthAdjust="spacingAndGlyphs">10</text><text class="d" x="357.6" y="1538.5" textLength="16" lengthAdjust="spacingAndGlyphs">11</text><text class="d" x="377.5" y="1538.5" textLength="16" lengthAdjust="spacingAndGlyphs">12</text>

<!-- Connector C-36 -->
<rect class="c" x="935.4" y="1183" width="227" height="55"/>
<path class="c" d="M939.4 1194H1158.8V1234H939.4ZM939.4 1214.3H1158.8M959.4 1194V1234M979.3 1194V1234M999.2 1194V1234M1019.1 1194V1234M1039 1214.3V1234M1058.9 1194V1234M1078.8 1194V1234M1098.7 1194V1234M1118.6 1194V1234M1138.5 1194V1234M1029 1194V1187H1049V1194M1029 1187L1039 1194L1049 1187"/>
<circle class="c" cx="1038.5" cy="1204.5" r="6.5"/>
<text class="d" x="949.4" y="1211" textLength="8" lengthAdjust="spacingAndGlyphs">1</text><text class="d" x="969.3" y="1211" textLength="8" lengthAdjust="spacingAndGlyphs">2</text><text class="d" x="989.2" y="1211" textLength="8" lengthAdjust="spacingAndGlyphs">3</text><text class="d" x="1009.1" y="1211" textLength="8" lengthAdjust="spacingAndGlyphs">4</text><text class="d" x="1068.9" y="1211" textLength="8" lengthAdjust="spacingAndGlyphs">5</text><text class="d" x="1088.8" y="1211" textLength="8" lengthAdjust="spacingAndGlyphs">6</text><text class="d" x="1108.7" y="1211" textLength="8" lengthAdjust="spacingAndGlyphs">7</text><text class="d" x="1128.6" y="1211" textLength="8" lengthAdjust="spacingAndGlyphs">8</text><text class="d" x="1148.6" y="1211" textLength="8" lengthAdjust="spacingAndGlyphs">9</text>
<text class="d" x="949.4" y="1231" textLength="16" lengthAdjust="spacingAndGlyphs">10</text><text class="d" x="969.3" y="1231" textLength="16" lengthAdjust="spacingAndGlyphs">11</text><text class="d" x="989.2" y="1231" textLength="16" lengthAdjust="spacingAndGlyphs">12</text><text class="d" x="1009.1" y="1231" textLength="16" lengthAdjust="spacingAndGlyphs">13</text><text class="d" x="1029" y="1231" textLength="16" lengthAdjust="spacingAndGlyphs">14</text><text class="d" x="1049" y="1231" textLength="16" lengthAdjust="spacingAndGlyphs">15</text><text class="d" x="1068.9" y="1231" textLength="16" lengthAdjust="spacingAndGlyphs">16</text><text class="d" x="1088.8" y="1231" textLength="16" lengthAdjust="spacingAndGlyphs">17</text><text class="d" x="1108.7" y="1231" textLength="16" lengthAdjust="spacingAndGlyphs">18</text><text class="d" x="1128.6" y="1231" textLength="16" lengthAdjust="spacingAndGlyphs">19</text><text class="d" x="1148.6" y="1231" textLength="16" lengthAdjust="spacingAndGlyphs">20</text>

<!-- Connector D-15 -->
<rect class="c" x="994.7" y="1308" width="248.7" height="62.5"/>
<path class="c" d="M998.7 1312H1053.6V1367H998.7ZM998.7 1339.5H1053.6M1026.3 1312V1367M1212.6 1312H1240V1367H1212.6ZM1212.6 1339.5H1240M1053.6 1320.8H1073.5M1073.5 1320.8V1315.5H1152.5V1320.8H1192.6M1073.5 1320.8V1339.5M1152.5 1320.8V1339.5M1172.5 1320.8V1359M1192.6 1320.8V1359M1212.6 1320.8V1359M1053.6 1339.5H1212.6M1053.6 1359H1212.6M1073.5 1339.5V1359M1093.5 1339.5V1359M1113.4 1339.5V1359M1133.3 1339.5V1359M1152.5 1339.5V1359M1081 1315.5V1311H1146V1315.5"/>
<circle class="c" cx="1113.3" cy="1330" r="6.7"/>
<text class="d" x="1012" y="1333" textLength="8" lengthAdjust="spacingAndGlyphs">1</text><text class="d" x="1039.5" y="1333" textLength="8" lengthAdjust="spacingAndGlyphs">2</text>
<text class="d" x="1012" y="1360" textLength="8" lengthAdjust="spacingAndGlyphs">8</text><text class="d" x="1039.5" y="1360" textLength="8" lengthAdjust="spacingAndGlyphs">9</text>
<text class="d" x="1063.5" y="1336.5" textLength="8" lengthAdjust="spacingAndGlyphs">3</text><text class="d" x="1162.7" y="1336.5" textLength="8" lengthAdjust="spacingAndGlyphs">4</text><text class="d" x="1182.5" y="1336.5" textLength="8" lengthAdjust="spacingAndGlyphs">5</text><text class="d" x="1202.5" y="1336.5" textLength="8" lengthAdjust="spacingAndGlyphs">6</text>
<text class="d" x="1226.5" y="1333" textLength="8" lengthAdjust="spacingAndGlyphs">7</text><text class="d" x="1226.5" y="1360" textLength="16" lengthAdjust="spacingAndGlyphs">18</text>
<text class="d" x="1063.5" y="1356" textLength="16" lengthAdjust="spacingAndGlyphs">10</text><text class="d" x="1083.3" y="1356" textLength="16" lengthAdjust="spacingAndGlyphs">11</text><text class="d" x="1103" y="1356" textLength="16" lengthAdjust="spacingAndGlyphs">12</text><text class="d" x="1123" y="1356" textLength="16" lengthAdjust="spacingAndGlyphs">13</text><text class="d" x="1142.6" y="1356" textLength="16" lengthAdjust="spacingAndGlyphs">14</text><text class="d" x="1162.7" y="1356" textLength="16" lengthAdjust="spacingAndGlyphs">15</text><text class="d" x="1182.5" y="1356" textLength="16" lengthAdjust="spacingAndGlyphs">16</text><text class="d" x="1202.5" y="1356" textLength="16" lengthAdjust="spacingAndGlyphs">17</text>

<!-- F-25 / F-04 -->
<text class="n" x="1026" y="1407" textLength="49.4" lengthAdjust="spacingAndGlyphs">F-25</text>
<text class="m" x="1029" y="1425.8" textLength="77" lengthAdjust="spacingAndGlyphs">(MU801211)</text>
<rect class="c" x="1026" y="1429.5" width="27.6" height="38.1"/><rect class="c" x="1029" y="1433" width="21.5" height="31"/>
<text class="d" x="1039.5" y="1451" textLength="8" lengthAdjust="spacingAndGlyphs">1</text>
<path d="M1035 1456H1045L1040 1463Z" fill="#111"/>
<text class="n" x="1245.6" y="1407" textLength="49.4" lengthAdjust="spacingAndGlyphs">F-04</text>
<text class="m" x="1248.6" y="1425.8" textLength="77" lengthAdjust="spacingAndGlyphs">(MU801211)</text>
<rect class="c" x="1245.8" y="1429.5" width="27.7" height="38.1"/><rect class="c" x="1249" y="1433" width="21.5" height="31"/>
<text class="d" x="1259.5" y="1451" textLength="8" lengthAdjust="spacingAndGlyphs">1</text>
<path d="M1255 1456H1265L1260 1463Z" fill="#111"/>

<!-- Defogger -->
<path class="b" d="M1072.6 1520L1104 1457.5H1197L1228 1520Z"/>
<path class="t" d="M1074 1489H1120L1125 1500L1131 1478L1137 1500L1143 1478L1149 1500L1155 1478L1161 1500L1167 1478L1173 1500L1178 1478L1181 1489H1228"/>
<path class="t" d="M1081 1479L1074 1489L1081 1499M1096 1479L1089 1489L1096 1499M1205 1479L1212 1489L1205 1499M1221 1479L1228 1489L1221 1499"/>
<text class="n" x="1061" y="1482" textLength="9" lengthAdjust="spacingAndGlyphs">1</text>
<text class="n" x="1232" y="1482" textLength="9" lengthAdjust="spacingAndGlyphs">1</text>
<text class="s" x="1058" y="1546" textLength="182" lengthAdjust="spacingAndGlyphs">REAR WINDOW</text>
<text class="s" x="1058" y="1571" textLength="140" lengthAdjust="spacingAndGlyphs">DEFOGGER</text>

<!-- Ground -->
<circle class="x" cx="1336.7" cy="1650.7" r="6"/>
<path class="t" d="M1324.5 1656.5H1349.4M1330 1665.7H1343M1333.6 1675H1340"/>

<!-- Note -->
<text x="816.6" y="1621" font-size="20" textLength="52" lengthAdjust="spacingAndGlyphs">NOTE</text>
<text class="star2" x="817" y="1640.5">★</text><text x="832" y="1640" font-size="20">1</text>
<text x="845" y="1640" font-size="20" textLength="232" lengthAdjust="spacingAndGlyphs">:VEHICLES WITHOUT A/C</text>
<text class="star2" x="817" y="1659.5">★</text><text x="832" y="1659" font-size="20">2</text>
<text x="845" y="1659" font-size="20" textLength="192" lengthAdjust="spacingAndGlyphs">:VEHICLES WITH A/C</text>
<text class="n" x="1281" y="1728" style="font-size:22.5px" textLength="108" lengthAdjust="spacingAndGlyphs">WBH54M033A</text>
</svg>
</body></html>
